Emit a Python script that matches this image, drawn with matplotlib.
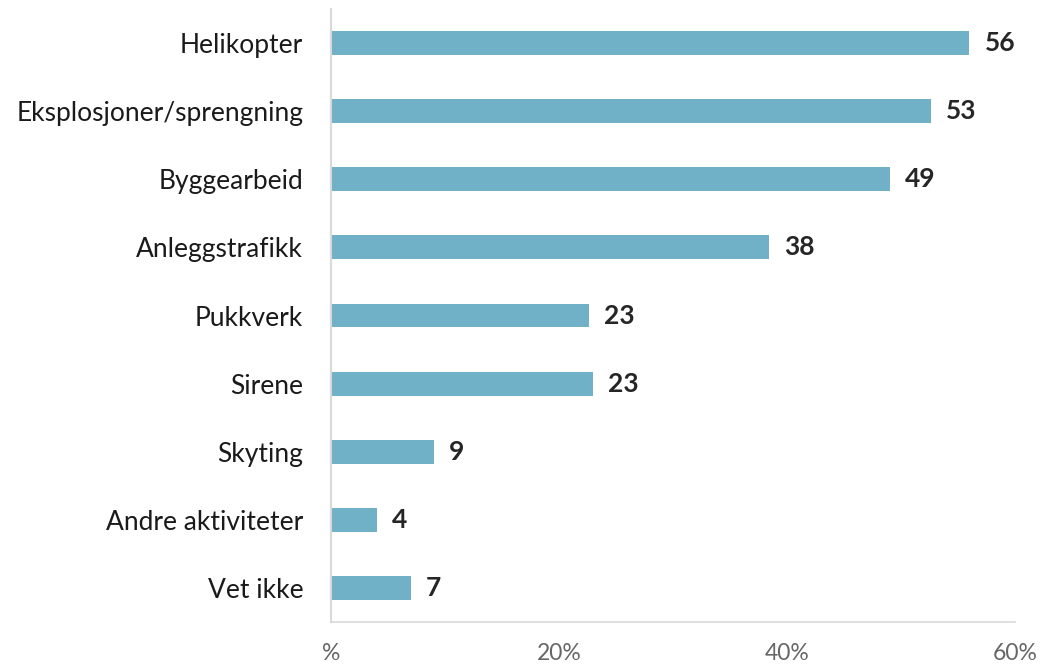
import matplotlib
matplotlib.use("Agg")
import matplotlib.pyplot as plt

categories = ["Helikopter", "Eksplosjoner/sprengning", "Byggearbeid", "Anleggstrafikk",
              "Pukkverk", "Sirene", "Skyting", "Andre aktiviteter", "Vet ikke"]
values = [56.0, 52.6, 49.0, 38.4, 22.6, 23.0, 9.0, 4.0, 7.0]
value_labels = ["56", "53", "49", "38", "23", "23", "9", "4", "7"]
xticks = [0, 20, 40, 60]
xtick_labels = ["%", "20%", "40%", "60%"]

plt.rcParams['font.family'] = ['Lato', 'DejaVu Sans']

fig = plt.figure(figsize=(10.4, 6.67), dpi=100)
ax = fig.add_axes([331/1040, 1-622/667, (1015-331)/1040, (622-9)/667])

ypos = list(range(len(categories)))
ax.barh(ypos, values, height=0.35, color="#70B1C8")
ax.set_ylim(len(categories)-0.5, -0.5)
ax.set_xlim(0, 60)
ax.set_yticks(ypos)
ax.set_yticklabels(categories, fontsize=19, color="#1a1a1a")
ax.set_xticks(xticks)
ax.set_xticklabels(xtick_labels, fontsize=16.5, color="#666666")
ax.tick_params(axis='y', length=0, pad=20)
ax.tick_params(axis='x', length=0, pad=15)

for y, v, lab in zip(ypos, values, value_labels):
    ax.annotate(lab, (v, y), xytext=(11, 0), textcoords="offset points",
                va="center", ha="left", fontsize=19, fontweight="bold", color="#262626")

for s in ["top", "right"]:
    ax.spines[s].set_visible(False)
ax.spines["left"].set_color("#d9d9d9")
ax.spines["left"].set_linewidth(1.5)
ax.spines["bottom"].set_color("#d9d9d9")
ax.spines["bottom"].set_linewidth(1.2)

fig.savefig("out.png", dpi=100)
